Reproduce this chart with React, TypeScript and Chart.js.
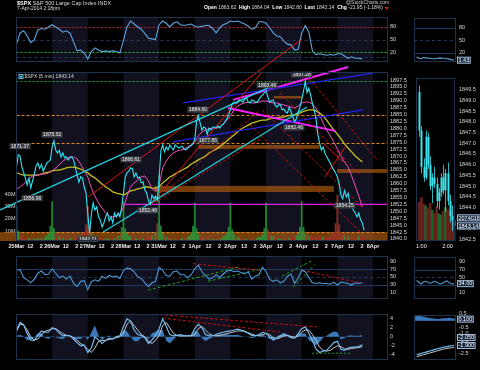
import React, { useEffect, useRef } from "react";
import { Chart, registerables } from "chart.js";

Chart.register(...registerables);

/* ========================= DATA ========================= */
const dayLabels = ["25Mar", "26Mar", "27Mar", "28Mar", "31Mar", "1Apr", "2Apr", "3Apr", "4Apr", "7Apr", "8Apr"];
const shadedDays = [1, 3, 5, 7, 9];
const hourTickLabels = ["12", "2"];
const hourTickOffsets = [2.5 / 6.5, 4.5 / 6.5];

// $SPX 5-min path, one reading every 0.05 session
const spx25Mar = [1866, 1870.5, 1870, 1866, 1864, 1862, 1859.5, 1862, 1858.5, 1861, 1863.5, 1866.5, 1867.5, 1865.5, 1867, 1864.5, 1866, 1867.5, 1868, 1868.6];
const spx26Mar = [1873.3, 1875.5, 1872.2, 1871.1, 1872, 1869.7, 1871.1, 1869.3, 1869.7, 1868.6, 1869.5, 1869.7, 1868.6, 1866, 1863.1, 1860.5, 1862.5, 1862, 1858.8, 1856.6];
const spx27Mar = [1849, 1842.1, 1849, 1853, 1850.5, 1851.6, 1848, 1846.9, 1844.3, 1845.8, 1848, 1849.4, 1846.5, 1848, 1845.8, 1849.4, 1848, 1849.4, 1848, 1851.6];
const spx28Mar = [1856.6, 1862.4, 1863.9, 1864.5, 1865.7, 1865.5, 1862.4, 1863.9, 1862.1, 1862.4, 1860.3, 1860.6, 1857.7, 1856.6, 1854, 1852.5, 1855.9, 1854.5, 1855.5, 1854.1];
const spx31Mar = [1862, 1872, 1874, 1871.5, 1873.3, 1872.2, 1874, 1873, 1872.2, 1874, 1873.5, 1872.9, 1873.3, 1873.5, 1872.5, 1872.2, 1872.8, 1873.3, 1873.8, 1874.5];
const spx1Apr = [1876, 1882.5, 1884.6, 1882, 1879.4, 1880.5, 1880.1, 1877.9, 1880.1, 1879.4, 1880.5, 1880.5, 1880.1, 1880.8, 1880.1, 1881.2, 1881.5, 1882.5, 1883.5, 1885];
const spx2Apr = [1886.7, 1889, 1889.5, 1889.2, 1889.2, 1890.3, 1890, 1889.5, 1890.5, 1891, 1889.5, 1889.2, 1890.3, 1890, 1889.5, 1889.5, 1890.5, 1891.4, 1892, 1892.8];
const spx3Apr = [1893.5, 1891.4, 1889.5, 1890, 1890.3, 1888.5, 1887.7, 1888.5, 1888.5, 1886.7, 1887, 1885.9, 1885.6, 1887.7, 1886, 1884.1, 1882.5, 1883.5, 1885.6, 1887.7];
const spx4Apr = [1890.5, 1893.5, 1897, 1893, 1894.5, 1892, 1889, 1886.7, 1883.5, 1878, 1874.7, 1872.2, 1873.3, 1871.1, 1869.7, 1868.6, 1867.5, 1866, 1864.9, 1863.9];
const spx7Apr = [1862.4, 1860, 1855.9, 1854.5, 1857.5, 1855.2, 1856.6, 1853, 1851.6, 1850.5, 1849.4, 1848, 1849.4, 1846.9, 1845.8, 1843.14];

// volume (millions), same sampling
const vol25Mar = [30, 10, 7, 6, 5, 4, 4, 4, 3, 3, 3, 3, 4, 3, 4, 4, 5, 6, 8, 14];
const vol26Mar = [34, 12, 7, 6, 5, 5, 4, 4, 3, 3, 4, 3, 3, 4, 5, 5, 6, 7, 9, 15];
const vol27Mar = [30, 14, 8, 6, 5, 5, 4, 4, 4, 3, 3, 4, 3, 3, 4, 4, 5, 6, 8, 13];
const vol28Mar = [34, 12, 8, 6, 5, 4, 4, 4, 3, 3, 3, 4, 4, 4, 5, 5, 6, 7, 9, 16];
const vol31Mar = [55, 14, 8, 6, 5, 5, 4, 4, 3, 3, 3, 3, 3, 4, 4, 4, 5, 6, 8, 14];
const vol1Apr = [33, 12, 7, 6, 5, 4, 4, 3, 3, 3, 3, 3, 3, 3, 4, 4, 5, 6, 8, 13];
const vol2Apr = [33, 11, 7, 5, 5, 4, 4, 3, 3, 3, 3, 3, 3, 3, 4, 4, 5, 5, 7, 12];
const vol3Apr = [33, 11, 7, 6, 5, 4, 4, 4, 3, 3, 3, 3, 4, 4, 4, 5, 5, 6, 8, 13];
const vol4Apr = [34, 13, 8, 7, 6, 5, 5, 5, 5, 6, 5, 5, 5, 4, 5, 5, 6, 7, 9, 16];
const vol7Apr = [39, 15, 9, 7, 6, 5, 5, 5, 4, 4, 4, 4, 5, 5, 5, 6];

// indicators, one reading every 0.1 session
const stochK = [
  39.4, 65.9, 71, 58.8, 43, 50, 73, 76.5, 74.7, 80,
  85.3, 80, 74.7, 67.6, 71, 65.9, 44.7, 23.5, 25.3, 18.2,
  4.1, 21.8, 30.6, 25.3, 21.8, 23.5, 21.8, 23.5, 21.8, 18.2,
  48.2, 80, 94, 87, 80, 74.7, 64.1, 53.5, 51.8, 50,
  85.3, 94, 88.8, 80, 88.8, 92.3, 85.3, 83.5, 85.3, 87,
  81.8, 80, 81.8, 83.5, 83.5, 76.5, 65.9, 78.2, 85.3, 88.8,
  94, 92.3, 94, 90.6, 87, 81.8, 74.7, 78.2, 92.3, 92.3,
  88.8, 78.2, 65.9, 58.8, 57, 46.5, 39.4, 37.7, 25.3, 27.1,
  65.9, 83.5, 67.6, 23.5, 14.7, 16.5, 14.7, 13, 14.7, 13,
  16.5, 16.5, 11.2, 5.9, 9.4, 5.9, 5.9, 4.1,
];
const rsi14 = [
  66.7, 68.6, 48.1, 42.6, 35.1, 44.4, 59.3, 64.9, 55.6, 57.4,
  70.5, 59.3, 48.1, 51.9, 44.4, 51.9, 33.3, 25.8, 38.8, 40.7,
  18, 38, 42.6, 38.8, 51.9, 46.3, 53.7, 50, 51.9, 46.3,
  66.7, 72.3, 70.5, 63, 50, 46.3, 35.1, 25.8, 35.1, 38.8,
  74.2, 66.7, 53.7, 51.9, 63, 64.9, 55.6, 55.6, 48.1, 55.6,
  70.5, 79.8, 63, 53.7, 44.4, 48.1, 55.6, 48.1, 57.4, 64.9,
  66.7, 63, 64.9, 61.2, 57.4, 63, 44.4, 51.9, 55.6, 74.2,
  63, 44.4, 38.8, 42.6, 35.1, 38.8, 51.9, 57.4, 33.3, 48.1,
  66.7, 63, 48.1, 35.1, 33.3, 35.1, 33.3, 33.3, 31.4, 37,
  29.5, 37, 35.1, 33.3, 29.5, 35.1, 33.3, 35.1,
];
const macdLine = [
  1.5, 3.2, 2.7, 0.7, -0.7, -0.8, 0.3, 1.3, 1, 1,
  2, 1.7, 0.8, 0.2, 0.3, 0.2, -0.5, -1.3, -2, -1.8,
  -3.5, -2.5, 0, -0.7, -1.5, -0.8, -0.3, -0.5, 0, 0.2,
  2.3, 4, 3.5, 1.5, 0.5, 0.3, -0.2, -1.5, -0.7, 0.3,
  1.8, 4, 2.3, 0.5, 0.2, 0.3, 0.5, 0.2, 0.2, 0.3,
  1.8, 2.8, 2, 0.5, 0.2, 0.2, 0.5, 0.8, 1, 1.2,
  1.3, 1.5, 1.7, 1.5, 1.2, 0.8, 0.3, 0.2, 0.5, 1,
  0.8, 0, -0.7, -0.3, 0.2, 0.7, 0.3, -0.2, -0.3, 0.7,
  1.8, 2.2, 0.8, -0.8, -2.7, -3.5, -3.2, -3, -2.2, -1.3,
  -1, -2.8, -3, -2.5, -2.3, -2.3, -2.2, -1.8,
];
const macdSignal = [
  1.2, 2.8, 2.6, 1.5, 0, -0.7, -0.5, 0.5, 1.2, 1.5,
  1.8, 1.8, 1.2, 0.7, 0.3, 0.2, -0.2, -0.8, -1.5, -2,
  -2.8, -3.5, -2.5, -1, -0.8, -0.8, -0.6, -0.4, -0.2, 0,
  0.8, 2.8, 3.5, 2.5, 1.5, 0.5, 0, -1, -1.5, -0.8,
  0.3, 2.5, 3.2, 2, 0.8, 0.3, 0.2, 0.2, 0.2, 0.2,
  0.5, 1.8, 2.3, 1.5, 0.7, 0.3, 0.2, 0.3, 0.5, 0.7,
  0.9, 1.1, 1.3, 1.3, 1.2, 0.9, 0.6, 0.3, 0.3, 0.5,
  0.7, 0.5, -0.2, -0.4, -0.2, 0.2, 0.3, 0.1, -0.1, 0.1,
  1, 1.5, 1.5, 0.5, -0.8, -2.3, -3, -3.2, -3, -2.5,
  -2, -2.2, -2.7, -2.8, -2.6, -2.5, -2.4, -2.2,
];
const macdHist = [
  0.3, 0.4, 0.1, -0.8, -0.7, -0.1, 0.8, 0.8, -0.2, -0.5,
  0.2, -0.1, -0.4, -0.5, 0, 0, -0.3, -0.5, -0.5, 0.2,
  -0.7, 1, 2.5, 0.3, -0.7, 0, 0.3, -0.1, 0.2, 0.2,
  1.5, 1.2, 0, -1, -1, -0.2, -0.2, -0.5, 0.8, 1.1,
  1.5, 1.5, -0.9, -1.5, -0.6, 0, 0.3, 0, 0, 0.1,
  1.3, 1, -0.3, -1, -0.5, -0.1, 0.3, 0.5, 0.5, 0.5,
  0.4, 0.4, 0.4, 0.2, 0, -0.1, -0.3, -0.1, 0.2, 0.5,
  0.1, -0.5, -0.5, 0.1, 0.4, 0.5, 0, -0.3, -0.2, 0.6,
  0.8, 0.7, -0.7, -1.3, -1.9, -1.2, -0.2, 0.2, 0.8, 1.2,
  1, -0.6, -0.3, 0.3, 0.3, 0.2, 0.2, 0.4,
];
const spxFastMA = [
  1858.1, 1858.8, 1859.9, 1861, 1862.4, 1863.1, 1863.1, 1863.5, 1863.5, 1863.9,
  1864.6, 1865.7, 1866.8, 1868.2, 1868.9, 1869.7, 1869.7, 1868.9, 1867.1, 1864.6,
  1862.4, 1858.4, 1855.5, 1853, 1851.2, 1849.4, 1848.3, 1848, 1848.3, 1849,
  1851.2, 1855.5, 1858.8, 1860.3, 1861.3, 1862.4, 1862.8, 1861, 1858.1, 1857.4,
  1859.5, 1865.7, 1868.2, 1870, 1871.1, 1871.8, 1872.2, 1872.5, 1873.3, 1874,
  1875.1, 1877.3, 1878.7, 1879.4, 1879.8, 1880.1, 1880.1, 1880.5, 1881.6, 1883,
  1884.5, 1886.7, 1888.1, 1888.8, 1889.2, 1889.5, 1889.2, 1889.2, 1889.5, 1889.9,
  1889.9, 1889.5, 1889.2, 1889.2, 1888.8, 1888.5, 1888.1, 1887.7, 1887.4, 1888.1,
  1889.2, 1889.5, 1889.5, 1888.8, 1887.4, 1884.8, 1881.9, 1879.4, 1877.3, 1875.1,
  1872.5, 1870, 1867.8, 1866, 1862.8, 1859.2, 1855.5, 1851.6,
];
const spxSlowMA = [
  1863.9, 1863.5, 1863.1, 1863.1, 1863.1, 1863.1, 1863.1, 1863.5, 1863.9, 1864.2,
  1864.6, 1864.9, 1864.9, 1865.3, 1865.7, 1866, 1866, 1865.7, 1865.3, 1864.6,
  1863.9, 1862.8, 1862.1, 1861, 1859.9, 1858.8, 1858.1, 1857, 1856.6, 1856.3,
  1855.9, 1856.6, 1857.4, 1857.7, 1858.1, 1858.4, 1858.8, 1858.8, 1858.4, 1858.4,
  1858.8, 1860.3, 1861.3, 1862.4, 1863.1, 1863.9, 1864.6, 1865.3, 1866, 1867.1,
  1867.8, 1868.6, 1869.3, 1870, 1871.1, 1871.8, 1872.5, 1873.3, 1874.4, 1875.4,
  1876.5, 1877.6, 1878.7, 1879.8, 1880.5, 1881.2, 1881.9, 1882.3, 1882.7, 1883,
  1883, 1883.4, 1883.8, 1883.8, 1884.1, 1884.1, 1884.5, 1884.8, 1884.8, 1885.2,
  1885.9, 1886.3, 1886.7, 1886.7, 1886.3, 1885.6, 1884.5, 1883, 1881.2, 1879.4,
  1877.9, 1876.2, 1874.4, 1872.9, 1871.5, 1870, 1868.9, 1867.8,
];

// annotations in session/price units: [t0, v0, t1, v1]
const cyanUpper = [-0.46, 1850.5, 7.11, 1895.0];
const cyanLower = [2.43, 1842.5, 8.15, 1887.7];
const redRiseA = [2.01, 1855.2, 8.01, 1912.3];
const redRiseB = [3.75, 1852.3, 6.89, 1900.4];
const redFan = [[3.75, 1852.3, 6.83, 1886.7], [3.75, 1852.3, 6.89, 1876.5]];
const redFall = [[7.95, 1902.2, 10.11, 1868.6], [7.39, 1892.8, 9.64, 1863.1], [6.89, 1886.7, 9.69, 1851.6], [6.55, 1881.2, 9.64, 1842.5]];
const redCross = [[8.6, 1874.7, 9.16, 1867.8], [8.65, 1862.4, 9.22, 1873.3]];
const blueLines = [[4.67, 1889.2, 10.0, 1900.0], [4.39, 1875.1, 9.72, 1886.7]];
const magentaUpper = [6.07, 1890.3, 9.3, 1902.2];
const magentaLower = [5.93, 1887.4, 8.93, 1879.1];
const magentaLevel = [2.99, 1852.5, 10.42, 1852.5];
const greenLevel = 1897.1;
const orangeLevels = [1884.8, 1874.7, 1842.5];
// shaded zones: [t0, t1, lowPrice, highPrice]
const zones = [
  [5.1, 8.5, 1872.6, 1874.0],
  [8.99, 10.42, 1863.9, 1865.3],
  [3.87, 8.9, 1857.0, 1859.2],
  [7.22, 8.0, 1890.8, 1891.7],
  [-0.47, 10.42, 1839.0, 1842.5],
];
const priceExtremes = [
  { t: 0.1, v: 1871.37, hi: true }, { t: 1.0, v: 1875.52, hi: true }, { t: 0.44, v: 1856.96, hi: false },
  { t: 2.0, v: 1842.11, hi: false }, { t: 3.21, v: 1866.61, hi: true }, { t: 3.69, v: 1852.48, hi: false },
  { t: 5.09, v: 1884.6, hi: true }, { t: 5.37, v: 1877.85, hi: false }, { t: 7.03, v: 1893.46, hi: true },
  { t: 8.0, v: 1897.28, hi: true }, { t: 7.78, v: 1882.46, hi: false }, { t: 9.21, v: 1854.25, hi: false },
];
const rsiRedLines = [[4.95, 83.5, 6.83, 66.7], [8.01, 66.7, 9.64, 35.1]];
const rsiGreenLines = [[3.69, 16.5, 6.27, 76], [5.37, 38.8, 6.89, 70.5], [7.45, 51.9, 8.29, 91], [7.76, 24, 8.37, 81.6]];
const macdRedLines = [[3.89, 5.0, 8.43, 2.17], [4.11, 4.17, 7.45, 1.0]];
const macdGreenLines = [[8.29, -3.67, 9.35, -3.67]];

// right-hand 5-min view of today (minutes after midnight)
const rtMinutes = [775, 780, 785, 790, 795, 800, 805, 810, 815, 820, 825, 830, 835, 840, 845, 850, 855];
const rtOpen = [1849.4, 1847.6, 1845.9, 1845.4, 1847.3, 1846.0, 1845.0, 1845.4, 1845.1, 1844.3, 1844.7, 1845.4, 1844.8, 1845.6, 1844.3, 1843.6, 1843.4];
const rtHigh = [1849.7, 1847.8, 1846.3, 1847.6, 1847.5, 1846.4, 1845.6, 1845.9, 1845.4, 1844.9, 1845.6, 1846.0, 1845.8, 1846.1, 1844.6, 1844.1, 1843.6];
const rtLow = [1847.3, 1845.6, 1845.2, 1845.3, 1845.8, 1844.8, 1844.2, 1844.9, 1844.0, 1843.9, 1844.5, 1844.6, 1843.8, 1844.1, 1843.3, 1842.9, 1842.8];
const rtClose = [1847.6, 1845.9, 1845.4, 1847.3, 1846.0, 1845.0, 1845.4, 1845.1, 1844.3, 1844.7, 1845.4, 1844.8, 1845.6, 1844.3, 1843.6, 1843.4, 1843.14];
const rtVolume = [4.3, 4.8, 4.1, 3.9, 3.6, 4.2, 3.4, 3.1, 3.8, 3.0, 2.9, 3.3, 3.7, 3.5, 3.2, 3.4, 2.074018];
const rtStoch = [9, 6, 5, 8, 7, 6, 6, 5, 5, 6, 7, 6, 6, 5, 4, 3, 1.43];
const rtRsi = [42, 37, 33, 39, 40, 36, 35, 38, 40, 36, 33, 35, 39, 41, 36, 33, 34];
const rtMacd = [-2.6, -2.55, -2.5, -2.45, -2.4, -2.35, -2.3, -2.25, -2.2, -2.15, -2.1, -2.05, -2.0, -1.98, -1.95, -1.92, -1.9];
const rtSignal = [-2.75, -2.7, -2.65, -2.6, -2.55, -2.5, -2.45, -2.4, -2.35, -2.3, -2.25, -2.2, -2.15, -2.12, -2.1, -2.07, -2.05];
const rtHist = [0.3, 0.33, 0.3, 0.25, 0.2, 0.18, 0.15, 0.12, 0.1, 0.08, 0.1, 0.12, 0.15, 0.15, 0.18, 0.15, 0.1];
const rtTimeTicks = [780, 840];
const rtTimeLabels = ["1:00", "2:00"];

// axis tick values
const stochTicks = [80, 50, 20];
const priceTicks = [1840, 1842.5, 1845, 1847.5, 1850, 1852.5, 1855, 1857.5, 1860, 1862.5, 1865, 1867.5, 1870, 1872.5, 1875, 1877.5, 1880, 1882.5, 1885, 1887.5, 1890, 1892.5, 1895, 1897.5];
const volumeTicks = [10, 20, 30, 40];
const rsiTicks = [90, 70, 50, 30, 10];
const macdTicks = [4, 2, 0, -2, -4];
const rtPriceTicks = [1842.5, 1843, 1843.5, 1844, 1844.5, 1845, 1845.5, 1846, 1846.5, 1847, 1847.5, 1848, 1848.5, 1849, 1849.5];
const rtMacdTicks = [0.5, 0, -0.5, -1, -1.5, -2, -2.5];

const headerTitle = ["$SPX", " S&P 500 Large Cap Index INDX"];
const headerDate = "7-Apr-2014 2:18pm";
const headerQuote = [["Open", "1863.62"], ["High", "1864.04"], ["Low", "1842.80"], ["Last", "1843.14"], ["Chg", "-21.95 (-1.18%)"]];
const legendText = "$SPX (5 min) 1843.14";

/* ========================= LOOK ========================= */
const FONT = '"Liberation Sans", Arial, Helvetica, sans-serif';
const X_MAX = 10.42;
Chart.defaults.font.family = FONT;
Chart.defaults.font.size = 5.5;
Chart.defaults.color = "#d6d6d6";

const spxClose = [...spx25Mar, ...spx26Mar, ...spx27Mar, ...spx28Mar, ...spx31Mar, ...spx1Apr, ...spx2Apr, ...spx3Apr, ...spx4Apr, ...spx7Apr];
const spxVolume = [...vol25Mar, ...vol26Mar, ...vol27Mar, ...vol28Mar, ...vol31Mar, ...vol1Apr, ...vol2Apr, ...vol3Apr, ...vol4Apr, ...vol7Apr];
const spxTime = spxClose.map((_, i) => i * 0.05);
const indTime = stochK.map((_, i) => i * 0.1);

const xTickValues: number[] = [];
const xTickText: string[] = [];
dayLabels.forEach((lab, d) => {
  xTickValues.push(d);
  xTickText.push(lab);
  if (d < dayLabels.length - 1) hourTickOffsets.forEach((f, j) => { xTickValues.push(d + f); xTickText.push(hourTickLabels[j]); });
});

const pts = (xs: number[], ys: number[]) => ys.map((y, i) => ({ x: xs[i], y }));
const seg = (s: number[]) => [{ x: s[0], y: s[1] }, { x: s[2], y: s[3] }];

function line(data: any[], color: string, width: number, extra: any = {}) {
  return { type: "line", data, borderColor: color, borderWidth: width, pointRadius: 0, tension: 0, fill: false, ...extra };
}

const noGrid = { display: false, drawTicks: false, tickLength: 0 };

function xDays(show: boolean) {
  return {
    type: "linear", min: 0, max: X_MAX, offset: false, display: show,
    grid: noGrid, border: { display: false },
    afterBuildTicks: (ax: any) => { ax.ticks = xTickValues.map((v) => ({ value: v })); },
    afterFit: (ax: any) => { ax.height = 10; },
    ticks: { autoSkip: false, maxRotation: 0, padding: 2, color: "#ececec", font: { size: 5.5, weight: "bold" }, callback: (_v: any, i: number) => xTickText[i] },
  };
}
function xMinutes(show: boolean) {
  return {
    type: "linear", min: 769.3, max: 859.3, offset: false, display: show,
    grid: noGrid, border: { display: false },
    afterBuildTicks: (ax: any) => { ax.ticks = rtTimeTicks.map((v) => ({ value: v })); },
    afterFit: (ax: any) => { ax.height = 10; },
    ticks: { autoSkip: false, maxRotation: 0, padding: 2, color: "#ececec", font: { size: 5.5 }, callback: (_v: any, i: number) => rtTimeLabels[i] },
  };
}
function yAxis(min: number, max: number, ticks: number[], fmt: (v: number) => string, width: number, position = "right", pad = 2) {
  return {
    type: "linear", position, min, max, grid: noGrid, border: { display: false },
    afterBuildTicks: (ax: any) => { ax.ticks = ticks.map((v) => ({ value: v })); },
    afterFit: (ax: any) => { ax.width = width; },
    ticks: { autoSkip: false, padding: pad, color: "#d6d6d6", font: { size: 5.5 }, callback: (v: number) => fmt(v) },
  };
}
function options(padding: any, scales: any) {
  return {
    responsive: false, maintainAspectRatio: false, animation: false, events: [],
    layout: { autoPadding: false, padding },
    plugins: { legend: { display: false }, tooltip: { enabled: false } },
    scales,
  };
}

function deco(cfg: any) {
  return {
    id: "deco",
    beforeDatasetsDraw(chart: any) {
      const { ctx, chartArea: ca, scales } = chart;
      const xs = scales.x, ys = scales.y;
      ctx.save();
      if (cfg.shade) {
        ctx.fillStyle = "#11111f";
        for (const d of shadedDays) {
          const x0 = Math.max(ca.left, xs.getPixelForValue(d));
          const x1 = Math.min(ca.right, xs.getPixelForValue(d + 1));
          if (x1 > x0) ctx.fillRect(x0, ca.top, x1 - x0, ca.bottom - ca.top);
        }
      }
      for (const z of cfg.zones || []) {
        const x0 = Math.max(0, xs.getPixelForValue(z[0]));
        const x1 = Math.min(ca.right, xs.getPixelForValue(z[1]));
        const yT = Math.max(ca.top, ys.getPixelForValue(z[3]));
        const yB = Math.min(ca.bottom, ys.getPixelForValue(z[2]));
        ctx.fillStyle = "rgba(190,100,18,0.62)";
        ctx.fillRect(x0, yT, x1 - x0, yB - yT);
      }
      for (const h of cfg.hlines || []) {
        const y = Math.round(ys.getPixelForValue(h.v)) + 0.5;
        ctx.strokeStyle = h.color; ctx.lineWidth = h.width || 1; ctx.setLineDash(h.dash || []);
        ctx.beginPath(); ctx.moveTo(ca.left, y); ctx.lineTo(ca.right, y); ctx.stroke();
      }
      ctx.setLineDash([]);
      ctx.restore();
    },
    afterDatasetsDraw(chart: any) {
      const { ctx, chartArea: ca, scales } = chart;
      const xs = scales.x, ys = scales.y;
      ctx.save();
      if (cfg.candles) {
        const c = cfg.candles;
        ctx.beginPath(); ctx.rect(ca.left, ca.top, ca.width, ca.height); ctx.clip();
        c.t.forEach((t: number, i: number) => {
          const x = Math.round(xs.getPixelForValue(t)) + 0.5;
          const last = i === c.t.length - 1;
          const col = last ? "#1fc44a" : "#3fe2ec";
          const yo = ys.getPixelForValue(c.o[i]), yc = ys.getPixelForValue(c.c[i]);
          ctx.strokeStyle = col; ctx.fillStyle = col; ctx.lineWidth = 0.8;
          ctx.beginPath(); ctx.moveTo(x, ys.getPixelForValue(c.h[i])); ctx.lineTo(x, ys.getPixelForValue(c.l[i])); ctx.stroke();
          const top = Math.min(yo, yc), h = Math.max(1, Math.abs(yc - yo));
          ctx.fillRect(x - 1, top, 2, h);
        });
      }
      for (const tg of cfg.tags || []) {
        const x = xs.getPixelForValue(tg.t);
        const y = ys.getPixelForValue(tg.v) + (tg.hi ? -6 : 6);
        const text = tg.v.toFixed(2);
        ctx.font = `5px ${FONT}`;
        const w = ctx.measureText(text).width + 3;
        ctx.fillStyle = "#3c4046"; ctx.fillRect(x - w / 2, y - 3, w, 6);
        ctx.fillStyle = "#e8e8e8"; ctx.textAlign = "center"; ctx.textBaseline = "middle";
        ctx.fillText(text, x, y + 0.3);
      }
      ctx.restore();
    },
    afterDraw(chart: any) {
      const { ctx, chartArea: ca, scales } = chart;
      ctx.save();
      ctx.strokeStyle = "#1e324c"; ctx.lineWidth = 1;
      ctx.strokeRect(Math.floor(ca.left) + 0.5, Math.floor(ca.top) + 0.5, Math.round(ca.right - ca.left) - 1, Math.round(ca.bottom - ca.top) - 1);
      if (cfg.legend) {
        ctx.fillStyle = "#0a2a3a"; ctx.fillRect(ca.left + 2, ca.top + 2, 4, 4);
        ctx.strokeStyle = "#7ab8d8"; ctx.strokeRect(ca.left + 2.5, ca.top + 2.5, 4, 4);
        ctx.fillStyle = "#2ee6f0"; ctx.fillRect(ca.left + 3.5, ca.top + 4, 2, 1.5);
        ctx.font = `5px ${FONT}`; ctx.fillStyle = "#dddddd"; ctx.textAlign = "left"; ctx.textBaseline = "top";
        ctx.fillText(cfg.legend, ca.left + 8, ca.top + 2);
      }
      let prevY = -100;
      for (const at of cfg.axisTags || []) {
        let y = scales[at.axis].getPixelForValue(at.v);
        if (Math.abs(y - prevY) < 8) y = prevY - 8;
        prevY = y;
        ctx.font = `5.5px ${FONT}`;
        const w = ctx.measureText(at.text).width + 3;
        const x = ca.right + 1;
        ctx.fillStyle = "#15263c"; ctx.fillRect(x, y - 3.5, w, 7);
        ctx.strokeStyle = "#9fb8d4"; ctx.strokeRect(x + 0.5, y - 3, w - 1, 6);
        ctx.fillStyle = "#ffffff"; ctx.textAlign = "left"; ctx.textBaseline = "middle";
        ctx.fillText(at.text, x + 1.5, y + 0.3);
      }
      ctx.restore();
    },
  };
}

const dim = "#1e3a5e";

function drawHeader(c: HTMLCanvasElement) {
  const ctx = c.getContext("2d")!;
  ctx.textBaseline = "top";
  const put = (text: string, x: number, y: number, size: number, bold: boolean, color: string) => {
    ctx.font = `${bold ? "bold " : ""}${size}px ${FONT}`;
    ctx.fillStyle = color;
    ctx.fillText(text, x, y);
    return x + ctx.measureText(text).width;
  };
  let x = put(headerTitle[0], 17, 0.5, 5.5, true, "#ffffff");
  put(headerTitle[1], x, 0.5, 5.5, false, "#dcdcdc");
  put(headerDate, 17, 6.5, 5, false, "#dcdcdc");
  let x2 = 204;
  for (const [lab, val] of headerQuote) {
    x2 = put(lab + " ", x2, 5.5, 5, true, "#ffffff");
    x2 = put(val + "  ", x2, 5.5, 5, false, "#dcdcdc");
  }
  ctx.fillStyle = "#e02020";
  ctx.beginPath(); ctx.moveTo(x2 - 1, 7); ctx.lineTo(x2 + 3, 7); ctx.lineTo(x2 + 1, 10); ctx.closePath(); ctx.fill();
  put("@StockCharts.com", 346, 0.5, 5, false, "#c8c8c8");
}

export default function App() {
  const head = useRef<HTMLCanvasElement>(null);
  const stochM = useRef<HTMLCanvasElement>(null);
  const stochR = useRef<HTMLCanvasElement>(null);
  const priceM = useRef<HTMLCanvasElement>(null);
  const priceR = useRef<HTMLCanvasElement>(null);
  const rsiM = useRef<HTMLCanvasElement>(null);
  const rsiR = useRef<HTMLCanvasElement>(null);
  const macdM = useRef<HTMLCanvasElement>(null);
  const macdR = useRef<HTMLCanvasElement>(null);

  useEffect(() => {
    const charts: any[] = [];
    const mk = (el: HTMLCanvasElement | null, cfg: any) => { if (el) charts.push(new Chart(el, cfg as any)); };
    const fmt1 = (v: number) => v.toFixed(1);
    const fmt0 = (v: number) => String(v);

    // ----- stochastic (top) -----
    mk(stochM.current, {
      type: "line",
      data: { datasets: [line(pts(indTime, stochK), "#5ca8e4", 1.1)] },
      options: options({ left: 16.5, right: 0, top: 0, bottom: 0 }, { x: xDays(false), y: yAxis(-2.9, 102.9, stochTicks, fmt0, 26) }),
      plugins: [deco({ shade: true, hlines: [
        { v: 80, color: "#c8202c", dash: [2, 2] }, { v: 50, color: dim, dash: [3, 3] },
        { v: 20, color: "#20c020", dash: [2, 2] }, { v: 10, color: dim, dash: [3, 3] }] })],
    });
    mk(stochR.current, {
      type: "line",
      data: { datasets: [line(pts(rtMinutes, rtStoch), "#5ca8e4", 1.1)] },
      options: options({ left: 0, right: 0, top: 0, bottom: 0 }, { x: xMinutes(false), y: yAxis(-2.9, 102.9, stochTicks, fmt0, 24, "right", 3) }),
      plugins: [deco({ hlines: [{ v: 80, color: dim }, { v: 50, color: dim, dash: [3, 3] }, { v: 20, color: dim }],
        axisTags: [{ axis: "y", v: rtStoch[rtStoch.length - 1], text: rtStoch[rtStoch.length - 1].toFixed(2) }] })],
    });

    // ----- price -----
    const volColors = spxClose.map((p, i) => (i === 0 || p >= spxClose[i - 1] ? "rgba(40,150,60,0.85)" : "rgba(160,50,40,0.85)"));
    const priceSets: any[] = [
      { type: "bar", data: pts(spxTime, spxVolume), yAxisID: "vol", backgroundColor: volColors, barThickness: 1.2, order: 20 },
      line(pts(indTime, spxSlowMA), "#c8c020", 1.3, { order: 6 }),
      line(pts(indTime, spxFastMA), "#f050c0", 1, { order: 5 }),
      line(seg(cyanUpper), "#22d4e4", 1.2, { order: 4, clip: { left: 17, top: 0, right: 0, bottom: 0 } }),
      line(seg(cyanLower), "#22d4e4", 1.2, { order: 4 }),
      line(seg(redRiseA), "#e01414", 1, { order: 4, clip: { left: 0, top: 40, right: 0, bottom: 0 } }),
      line(seg(redRiseB), "#e01414", 1, { order: 4 }),
      ...redFan.map((s) => line(seg(s), "#c81010", 1, { order: 4, borderDash: [3, 2] })),
      ...redFall.map((s) => line(seg(s), "#c81010", 1, { order: 4, borderDash: [3, 2] })),
      ...redCross.map((s) => line(seg(s), "#e01414", 1, { order: 4 })),
      ...blueLines.map((s) => line(seg(s), "#2424f0", 1.2, { order: 4 })),
      line(seg(magentaUpper), "#ff22ff", 2, { order: 4, clip: { left: 0, top: 10, right: 0, bottom: 0 } }),
      line(seg(magentaLower), "#ff22ff", 2, { order: 4 }),
      line(seg(magentaLevel), "#e020e0", 1.2, { order: 4 }),
      line(pts(spxTime, spxClose), "#2fe4f2", 1.1, { order: 1 }),
    ];
    mk(priceM.current, {
      type: "line",
      data: { datasets: priceSets },
      options: options({ left: 0, right: 0, top: 72, bottom: 0 }, {
        x: xDays(true),
        y: yAxis(1839.27, 1900.39, priceTicks, fmt1, 26),
        vol: yAxis(1.9, 139.3, volumeTicks, (v) => `${v}M`, 16.5, "left", 1),
      }),
      plugins: [deco({
        shade: true, zones, tags: priceExtremes, legend: legendText,
        hlines: [{ v: greenLevel, color: "#20a030", dash: [2, 2] },
          ...orangeLevels.map((v) => ({ v, color: "#e08a20", dash: [3, 2] }))],
      })],
    });
    const rtVolColors = rtClose.map((c, i) => (c >= rtOpen[i] ? "rgba(30,110,50,0.9)" : "rgba(110,35,30,0.9)"));
    mk(priceR.current, {
      type: "line",
      data: { datasets: [{ type: "bar", data: pts(rtMinutes, rtVolume), yAxisID: "vol", backgroundColor: rtVolColors, barThickness: 2.2 }] },
      options: options({ left: 0, right: 0, top: 0, bottom: 0 }, {
        x: xMinutes(true),
        y: yAxis(1842.43, 1850.04, rtPriceTicks, fmt1, 24, "right", 3),
        vol: { type: "linear", display: false, min: 0, max: 18 },
      }),
      plugins: [deco({
        candles: { t: rtMinutes, o: rtOpen, h: rtHigh, l: rtLow, c: rtClose },
        axisTags: [{ axis: "y", v: rtClose[rtClose.length - 1], text: rtClose[rtClose.length - 1].toFixed(2) },
          { axis: "vol", v: rtVolume[rtVolume.length - 1], text: String(Math.round(rtVolume[rtVolume.length - 1] * 1e6)) }],
      })],
    });

    // ----- RSI -----
    mk(rsiM.current, {
      type: "line",
      data: { datasets: [
        line(pts(indTime, rsi14), "#4c9ad8", 1.1),
        ...rsiRedLines.map((s) => line(seg(s), "#c81010", 1, { borderDash: [3, 2] })),
        ...rsiGreenLines.map((s) => line(seg(s), "#20a020", 1, { borderDash: [3, 2] })),
      ] },
      options: options({ left: 16.5, right: 0, top: 0, bottom: 0 }, { x: xDays(false), y: yAxis(-5.8, 102.1, rsiTicks, fmt0, 26) }),
      plugins: [deco({ shade: true, hlines: [{ v: 70, color: dim }, { v: 50, color: dim, dash: [3, 3] }, { v: 30, color: dim }] })],
    });
    mk(rsiR.current, {
      type: "line",
      data: { datasets: [line(pts(rtMinutes, rtRsi), "#4c9ad8", 1.1)] },
      options: options({ left: 0, right: 0, top: 0, bottom: 0 }, { x: xMinutes(false), y: yAxis(-5.8, 102.1, rsiTicks, fmt0, 24, "right", 3) }),
      plugins: [deco({ hlines: [{ v: 70, color: dim }, { v: 50, color: dim, dash: [3, 3] }, { v: 30, color: dim }],
        axisTags: [{ axis: "y", v: rtRsi[rtRsi.length - 1], text: rtRsi[rtRsi.length - 1].toFixed(2) }] })],
    });

    // ----- MACD -----
    mk(macdM.current, {
      type: "line",
      data: { datasets: [
        line(pts(indTime, macdHist), "rgba(0,0,0,0)", 0, { fill: "origin", backgroundColor: "#3a78b8", order: 9 }),
        line(pts(indTime, macdSignal), "#c8c8c8", 1, { order: 2 }),
        line(pts(indTime, macdLine), "#74bcf2", 1.2, { order: 1 }),
        ...macdRedLines.map((s) => line(seg(s), "#c81010", 1, { borderDash: [3, 2] })),
        ...macdGreenLines.map((s) => line(seg(s), "#20a020", 1, { borderDash: [2, 2] })),
      ] },
      options: options({ left: 16.5, right: 0, top: 0, bottom: 0 }, { x: xDays(false), y: yAxis(-5.17, 5.0, macdTicks, fmt0, 26) }),
      plugins: [deco({ shade: true })],
    });
    mk(macdR.current, {
      type: "line",
      data: { datasets: [
        { type: "bar", data: pts(rtMinutes, rtHist), backgroundColor: "#3a78b8", barThickness: 2.4 },
        line(pts(rtMinutes, rtSignal), "#c8c8c8", 1),
        line(pts(rtMinutes, rtMacd), "#74bcf2", 1.2),
      ] },
      options: options({ left: 0, right: 0, top: 0, bottom: 0 }, { x: xMinutes(false), y: yAxis(-3.0, 0.39, rtMacdTicks, fmt1, 24, "right", 3) }),
      plugins: [deco({ axisTags: [
        { axis: "y", v: rtHist[rtHist.length - 1], text: rtHist[rtHist.length - 1].toFixed(3) },
        { axis: "y", v: rtMacd[rtMacd.length - 1], text: rtMacd[rtMacd.length - 1].toFixed(3) },
        { axis: "y", v: rtSignal[rtSignal.length - 1], text: rtSignal[rtSignal.length - 1].toFixed(3) },
      ] })],
    });

    if (head.current) drawHeader(head.current);
    return () => charts.forEach((c) => c.destroy());
  }, []);

  const cv = (ref: any, left: number, top: number, w: number, h: number) => (
    <canvas ref={ref} width={w} height={h} style={{ position: "absolute", left, top, width: w, height: h }} />
  );

  return (
    <div style={{ position: "fixed", left: 0, top: 0, width: 480, height: 370, background: "#000", overflow: "hidden" }}>
      {cv(head, 0, 0, 480, 13)}
      {cv(stochM, 0, 12, 414, 60)}
      {cv(stochR, 414, 12, 66, 60)}
      {cv(priceM, 0, 0, 414, 251)}
      {cv(priceR, 414, 72, 66, 179)}
      {cv(rsiM, 0, 251, 414, 58)}
      {cv(rsiR, 414, 251, 66, 58)}
      {cv(macdM, 0, 309, 414, 61)}
      {cv(macdR, 414, 309, 66, 61)}
    </div>
  );
}
